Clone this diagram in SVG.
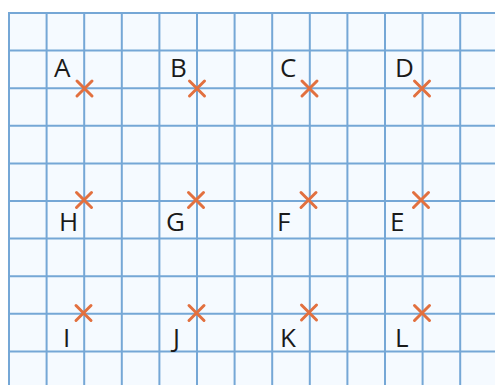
<svg xmlns="http://www.w3.org/2000/svg" width="495" height="385" viewBox="0 0 495 385">
<defs>
<style>
.grid line{stroke:#75a7d6;stroke-width:2}
.x{stroke:#e2703f;stroke-width:3;stroke-linecap:round;fill:none}
.lbl{font-family:"Open Sans","Noto Sans","Liberation Sans",sans-serif;font-size:26px;fill:#1a1a1a}
</style>
<path id="cr" class="x" d="M-7.5,-7.5L7.5,7.5M7.5,-7.5L-7.5,7.5"/>
</defs>
<rect width="495" height="385" fill="#ffffff"/>
<rect x="9" y="13" width="486" height="372" fill="#f5faff"/>
<g class="grid" id="grid">
<line x1="9" y1="13" x2="9" y2="385"/>
<line x1="46.6" y1="13" x2="46.6" y2="385"/>
<line x1="84.2" y1="13" x2="84.2" y2="385"/>
<line x1="121.8" y1="13" x2="121.8" y2="385"/>
<line x1="159.4" y1="13" x2="159.4" y2="385"/>
<line x1="197" y1="13" x2="197" y2="385"/>
<line x1="234.6" y1="13" x2="234.6" y2="385"/>
<line x1="272.2" y1="13" x2="272.2" y2="385"/>
<line x1="309.8" y1="13" x2="309.8" y2="385"/>
<line x1="347.4" y1="13" x2="347.4" y2="385"/>
<line x1="385" y1="13" x2="385" y2="385"/>
<line x1="422.6" y1="13" x2="422.6" y2="385"/>
<line x1="460.2" y1="13" x2="460.2" y2="385"/>
<line x1="8" y1="13" x2="495" y2="13"/>
<line x1="8" y1="50.6" x2="495" y2="50.6"/>
<line x1="8" y1="88.2" x2="495" y2="88.2"/>
<line x1="8" y1="125.8" x2="495" y2="125.8"/>
<line x1="8" y1="163.4" x2="495" y2="163.4"/>
<line x1="8" y1="201" x2="495" y2="201"/>
<line x1="8" y1="238.6" x2="495" y2="238.6"/>
<line x1="8" y1="276.2" x2="495" y2="276.2"/>
<line x1="8" y1="313.8" x2="495" y2="313.8"/>
<line x1="8" y1="351.4" x2="495" y2="351.4"/>
</g>
<g id="connectors"></g>
<g id="A"><use href="#cr" x="84.5" y="88.5"/><text class="lbl" x="54" y="77">A</text></g>
<g id="B"><use href="#cr" x="197" y="88.5"/><text class="lbl" x="170" y="77">B</text></g>
<g id="C"><use href="#cr" x="309.5" y="88.5"/><text class="lbl" x="280" y="77">C</text></g>
<g id="D"><use href="#cr" x="422" y="88.5"/><text class="lbl" x="395" y="77">D</text></g>
<g id="H"><use href="#cr" x="84" y="200"/><text class="lbl" x="59" y="231">H</text></g>
<g id="G"><use href="#cr" x="196" y="200"/><text class="lbl" x="166" y="231">G</text></g>
<g id="F"><use href="#cr" x="308.5" y="200"/><text class="lbl" x="277" y="231">F</text></g>
<g id="E"><use href="#cr" x="421" y="200"/><text class="lbl" x="390" y="231">E</text></g>
<g id="I"><use href="#cr" x="83.5" y="313"/><text class="lbl" x="63" y="347">I</text></g>
<g id="J"><use href="#cr" x="196.5" y="313"/><text class="lbl" x="173" y="347">J</text></g>
<g id="K"><use href="#cr" x="309" y="312.5"/><text class="lbl" x="280" y="347">K</text></g>
<g id="L"><use href="#cr" x="422" y="313"/><text class="lbl" x="395" y="347">L</text></g>
</svg>
